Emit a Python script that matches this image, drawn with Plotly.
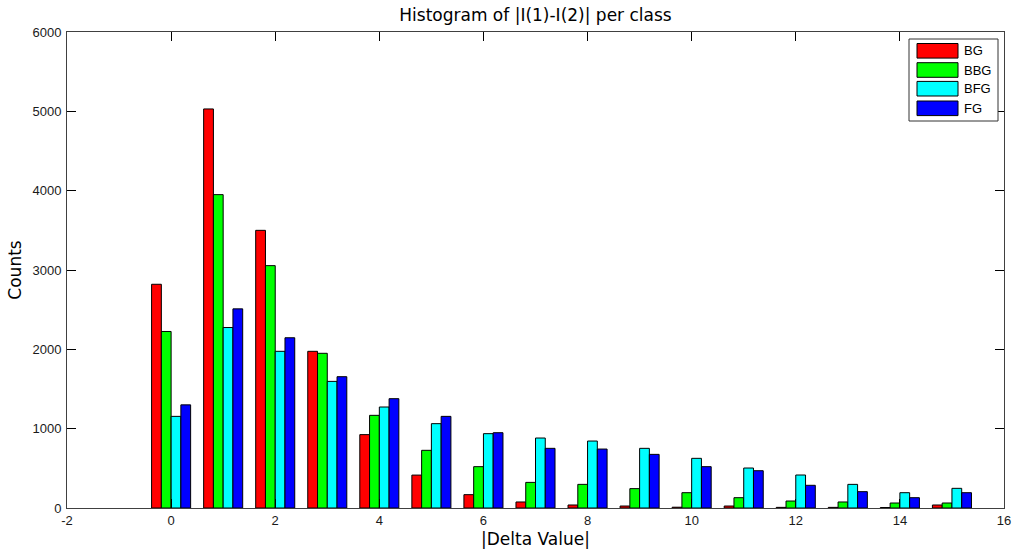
import plotly.graph_objects as go

# Histogram bins of |Delta Value|
delta_values = list(range(16))

# Counts per class for each bin
bg_counts = [2820, 5030, 3500, 1975, 925, 415, 168, 76, 38, 25, 10, 25, 8, 8, 6, 38]
bbg_counts = [2225, 3950, 3055, 1950, 1168, 727, 521, 323, 298, 244, 193, 130, 88, 76, 63, 63]
bfg_counts = [1155, 2275, 1975, 1596, 1273, 1063, 937, 882, 844, 752, 626, 504, 416, 298, 193, 248]
fg_counts = [1300, 2510, 2146, 1655, 1378, 1155, 949, 752, 743, 676, 521, 470, 286, 206, 130, 193]

class_names = ["BG", "BBG", "BFG", "FG"]
class_colors = ["#FF0000", "#00FF00", "#00FFFF", "#0000FF"]
series = [bg_counts, bbg_counts, bfg_counts, fg_counts]

x_ticks = list(range(-2, 17, 2))
y_ticks = list(range(0, 6001, 1000))

W, H = 1013, 555
L, R, T, B = 67, 9, 32, 47
PW, PH = W - L - R, H - T - B

fig = go.Figure()
for name, color, counts in zip(class_names, class_colors, series):
    fig.add_trace(go.Bar(
        x=delta_values, y=counts, name=name,
        marker=dict(color=color, line=dict(color="#000000", width=1)),
        showlegend=False,
    ))

def px_x(p):
    return (p - L) / PW

def px_y(p):
    return (H - B - p) / PH

shapes = []
annotations = []

# Legend box in the upper-right corner of the axes
shapes.append(dict(type="rect", xref="paper", yref="paper",
                   x0=px_x(909), x1=px_x(998), y0=px_y(121), y1=px_y(39),
                   fillcolor="white", line=dict(color="#333333", width=1), layer="above"))
row_centers = [50.8, 70.0, 88.7, 108.3]
for name, color, cy in zip(class_names, class_colors, row_centers):
    shapes.append(dict(type="rect", xref="paper", yref="paper",
                       x0=px_x(917), x1=px_x(958), y0=px_y(cy + 7.3), y1=px_y(cy - 7.3),
                       fillcolor=color, line=dict(color="#000000", width=1), layer="above"))
    annotations.append(dict(text=name, xref="paper", yref="paper",
                            x=px_x(962), y=px_y(cy), xanchor="left", yanchor="middle",
                            showarrow=False,
                            font=dict(family="Liberation Sans, Arial", size=13, color="#000000")))

axis_common = dict(
    showgrid=False, zeroline=False, showline=True, linecolor="#404040", linewidth=1,
    mirror="ticks", ticks="inside", ticklen=9, tickcolor="#000000", tickwidth=1,
    automargin=False,
    tickfont=dict(family="Liberation Sans, Arial", size=13, color="#1a1a1a"),
)

fig.update_layout(
    width=W, height=H,
    margin=dict(l=L, r=R, t=T, b=B, pad=0),
    paper_bgcolor="white", plot_bgcolor="white",
    barmode="group", bargap=0.25, bargroupgap=0,
    title=dict(text="Histogram of |I(1)-I(2)| per class",
               x=0.5, xref="paper", xanchor="center",
               y=1 - 15 / H, yref="container", yanchor="middle",
               font=dict(family="DejaVu Sans", size=17, color="#000000")),
    xaxis=dict(range=[-2, 16], tickvals=x_ticks, ticktext=[str(v) for v in x_ticks],
               title=dict(text="|Delta Value|", standoff=6,
                          font=dict(family="DejaVu Sans", size=17, color="#000000")),
               **axis_common),
    yaxis=dict(range=[0, 6000], tickvals=y_ticks, ticktext=[str(v) for v in y_ticks],
               ticklabelstandoff=2,
               title=dict(text="Counts", standoff=6,
                          font=dict(family="DejaVu Sans", size=17, color="#000000")),
               **axis_common),
    shapes=shapes,
    annotations=annotations,
)

fig.write_html("out.html")
